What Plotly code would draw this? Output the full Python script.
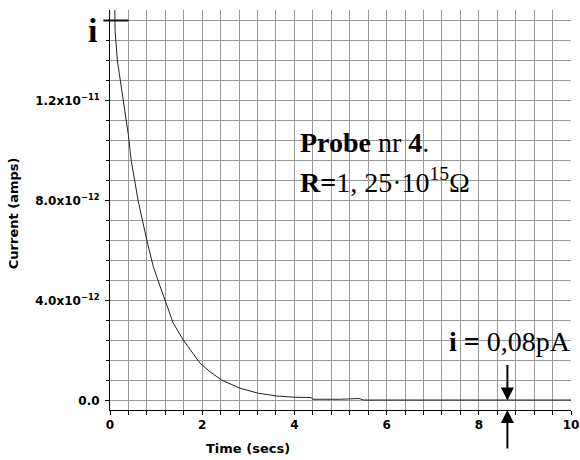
import plotly.graph_objects as go

# ---- data ----
time_s = [0.10, 0.11, 0.16, 0.29, 0.40, 0.46, 0.61, 0.80, 0.94, 1.09, 1.19, 1.37,
          1.59, 1.95, 2.17, 2.42, 2.82, 3.22, 3.62, 4.01, 4.36, 4.40, 5.00, 5.30,
          5.40, 5.50, 6.00, 7.00, 8.00, 9.00, 10.00]
current_pA = [16.5, 14.8, 13.6, 12.0, 10.6, 9.6, 8.0, 6.4, 5.35, 4.55, 4.0, 3.1,
              2.42, 1.5, 1.15, 0.82, 0.49, 0.29, 0.18, 0.13, 0.12, 0.05, 0.05, 0.05,
              0.08, 0.02, 0.02, 0.02, 0.02, 0.02, 0.02]
current_A = [v * 1e-12 for v in current_pA]

marker_t = [0.13]
marker_i = [15.2e-12]

y_tick_vals = [0.0, 4.0e-12, 8.0e-12, 1.2e-11]
y_tick_text = ["0.0", "4.0x10<sup>−12</sup>", "8.0x10<sup>−12</sup>", "1.2x10<sup>−11</sup>"]
x_tick_vals = [0, 2, 4, 6, 8, 10]

arrow_t = 8.62

GRID = "#999999"
SANS = "DejaVu Sans"
SERIF = "Liberation Serif"

fig = go.Figure()
fig.add_trace(go.Scatter(x=time_s, y=current_A, mode="lines",
                         line=dict(color="#222222", width=1), showlegend=False))
fig.add_trace(go.Scatter(x=marker_t, y=marker_i, mode="markers", cliponaxis=False,
                         marker=dict(symbol="line-ew", size=18,
                                     line=dict(color="#111111", width=2)),
                         showlegend=False))

fig.update_layout(
    width=580, height=460,
    margin=dict(l=110, r=9, t=10, b=50, autoexpand=False),
    showlegend=False,
    paper_bgcolor="white", plot_bgcolor="white",
    xaxis=dict(range=[0, 10], tickvals=x_tick_vals, showgrid=True, gridcolor=GRID,
               gridwidth=1, zeroline=False, showline=True, linecolor="black",
               linewidth=1, ticks="outside", ticklen=4, tickcolor="black",
               automargin=False,
               tickfont=dict(family=SANS, size=12, color="black", weight="bold"),
               minor=dict(tickmode="linear", tick0=0, dtick=0.4, showgrid=True,
                          gridcolor=GRID, gridwidth=1, ticks="outside", ticklen=4,
                          tickcolor="black")),
    yaxis=dict(range=[-0.38e-12, 15.62e-12], tickmode="array", tickvals=y_tick_vals,
               ticktext=y_tick_text, showgrid=True, gridcolor=GRID, gridwidth=1,
               zeroline=False, showline=True, linecolor="black", linewidth=1,
               ticks="outside", ticklen=4, tickcolor="black", ticklabelstandoff=3,
               automargin=False,
               tickfont=dict(family=SANS, size=12, color="black", weight="bold"),
               minor=dict(tickmode="linear", tick0=0, dtick=0.8e-12, showgrid=True,
                          gridcolor=GRID, gridwidth=1, ticks="outside", ticklen=3,
                          tickcolor="black")),
)

ann = []
# axis titles
ann.append(dict(text="Time (secs)", xref="paper", yref="paper", x=0.299, y=-0.095,
                xanchor="center", yanchor="middle", showarrow=False,
                font=dict(family=SANS, size=13, color="black", weight="bold")))
ann.append(dict(text="Current (amps)", xref="paper", yref="paper", x=-0.21, y=0.4925,
                xanchor="center", yanchor="middle", textangle=-90, showarrow=False,
                font=dict(family=SANS, size=13, color="black", weight="bold")))
# big "i"
ann.append(dict(text="<b>i</b>", xref="paper", yref="paper", x=-0.037, y=0.948,
                xanchor="center", yanchor="middle", showarrow=False,
                font=dict(family=SERIF, size=34, color="black")))
# probe text
ann.append(dict(text="<b>Probe</b> nr <b>4</b>.", xref="x", yref="y", x=4.08, y=10.32e-12,
                xanchor="left", yanchor="middle", showarrow=False,
                font=dict(family=SERIF, size=28, color="black")))
ann.append(dict(text="<b>R=</b>1, 25·10<sup>15</sup>Ω", xref="x", yref="y", x=4.08, y=8.80e-12,
                xanchor="left", yanchor="middle", showarrow=False,
                font=dict(family=SERIF, size=28, color="black")))
ann.append(dict(text="<b>i =</b> 0,08pA", xref="x", yref="y", x=7.31, y=2.36e-12,
                xanchor="left", yanchor="middle", showarrow=False,
                font=dict(family=SERIF, size=28, color="black")))
# arrows
ann.append(dict(text="", xref="x", yref="y", x=arrow_t, y=0.0, ax=0, ay=-37,
                showarrow=True, arrowhead=2, arrowsize=1.3, arrowwidth=2,
                arrowcolor="black", standoff=0))
ann.append(dict(text="", xref="x", yref="paper", x=arrow_t, y=0.0, ax=0, ay=40,
                showarrow=True, arrowhead=2, arrowsize=1.3, arrowwidth=2,
                arrowcolor="black", standoff=0))
fig.update_layout(annotations=ann)

fig.write_html("out.html")
